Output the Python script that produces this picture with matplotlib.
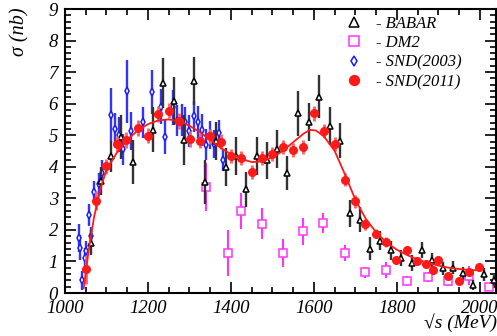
import matplotlib
matplotlib.use("Agg")
import matplotlib.pyplot as plt
from matplotlib.ticker import MultipleLocator

plt.rcParams['font.family'] = ['Liberation Serif', 'DejaVu Serif']
plt.rcParams['mathtext.fontset'] = 'stix'

# --- data ---
# BABAR
babar_e = [1063, 1086, 1111, 1136, 1163, 1212, 1237, 1263, 1287, 1312, 1337, 1363, 1387,
           1413, 1437, 1463, 1487, 1511, 1535, 1561, 1587, 1612, 1638, 1662, 1686, 1712,
           1736, 1760, 1786, 1810, 1837, 1861, 1885, 1910, 1936, 1960, 1984, 2011, 2035]
babar_s = [1.60, 3.55, 4.33, 4.94, 4.14, 5.18, 6.66, 6.08, 4.85, 6.72, 3.52, 4.83, 3.99,
           4.33, 3.28, 4.33, 4.20, 4.57, 3.80, 5.69, 5.41, 6.22, 5.30, 4.83, 2.52, 2.32,
           1.41, 1.65, 1.36, 1.12, 0.96, 1.36, 1.03, 0.78, 0.80, 0.62, 0.26, 0.59, 0.41]
babar_err = [0.40, 0.45, 0.50, 0.70, 0.70, 0.70, 0.80, 0.75, 0.80, 0.75, 0.70, 0.60, 0.60,
             0.60, 0.55, 0.60, 0.60, 0.60, 0.55, 0.70, 0.60, 0.68, 0.60, 0.55, 0.42, 0.40,
             0.35, 0.30, 0.30, 0.25, 0.25, 0.25, 0.25, 0.20, 0.20, 0.20, 0.15, 0.20, 0.20]

# DM2
dm2_e = [1339, 1394, 1424, 1475, 1525, 1573, 1623, 1675, 1724, 1773, 1825, 1875, 1924, 1973, 2023]
dm2_s = [3.36, 1.27, 2.59, 2.20, 1.26, 1.95, 2.23, 1.27, 0.65, 0.73, 0.38, 0.51, 0.38, 0.54, 0.18]
dm2_err = [0.76, 0.74, 0.57, 0.50, 0.45, 0.42, 0.32, 0.26, 0.18, 0.25, 0.15, 0.15, 0.15, 0.30, 0.10]

# SND(2003)
snd03_e = [1033, 1035, 1040, 1049, 1051, 1058, 1062, 1070, 1081, 1090, 1110, 1120, 1130,
           1140, 1150, 1160, 1189, 1210, 1231, 1241, 1260, 1270, 1283, 1290, 1299, 1310,
           1320, 1330, 1340, 1350, 1360, 1370, 1380]
snd03_s = [1.75, 1.43, 0.41, 1.12, 1.34, 2.46, 1.80, 3.20, 3.46, 3.81, 5.65, 5.20, 5.02,
           4.55, 6.39, 5.14, 5.41, 6.38, 5.90, 4.95, 5.88, 5.46, 5.48, 5.41, 5.13, 5.60,
           5.42, 5.16, 4.70, 5.00, 4.73, 5.07, 4.21]
snd03_err = [0.45, 0.40, 0.30, 0.30, 0.30, 0.35, 0.30, 0.35, 0.35, 0.40, 0.85, 0.50, 0.55,
             0.50, 1.00, 0.60, 0.50, 0.70, 0.55, 0.55, 0.55, 0.50, 0.50, 0.50, 0.50, 0.50,
             0.50, 0.50, 0.50, 0.45, 0.45, 0.40, 0.35]

# SND(2011)
snd11_e = [1050, 1075, 1100, 1126, 1148, 1176, 1199, 1224, 1250, 1274, 1301, 1325, 1349,
           1375, 1400, 1424, 1450, 1474, 1500, 1525, 1549, 1574, 1599, 1624, 1650, 1675,
           1700, 1724, 1750, 1774, 1798, 1825, 1848, 1870, 1888, 1898, 1923, 1949, 1973, 1998]
snd11_s = [0.75, 2.93, 4.01, 4.73, 4.85, 5.23, 4.99, 5.67, 5.78, 5.45, 4.88, 4.83, 4.96,
           4.80, 4.34, 4.27, 3.83, 4.27, 4.41, 4.64, 4.54, 4.64, 5.69, 5.12, 4.73, 3.59,
           2.90, 2.18, 1.88, 1.62, 1.04, 1.36, 1.02, 0.93, 0.73, 1.06, 0.53, 0.39, 0.65, 0.82]
snd11_err = [0.45, 0.30, 0.25, 0.25, 0.25, 0.25, 0.25, 0.25, 0.25, 0.25, 0.25, 0.25, 0.25,
             0.25, 0.22, 0.22, 0.22, 0.22, 0.22, 0.22, 0.22, 0.22, 0.25, 0.22, 0.22, 0.20,
             0.20, 0.18, 0.15, 0.15, 0.13, 0.13, 0.12, 0.12, 0.12, 0.12, 0.12, 0.12, 0.12, 0.12]

# fit curve
fit_e = [1045, 1050, 1055, 1060, 1070, 1080, 1090, 1100, 1125, 1150, 1175, 1200, 1225,
         1250, 1275, 1300, 1325, 1350, 1375, 1400, 1425, 1450, 1475, 1500, 1525, 1550,
         1575, 1590, 1605, 1625, 1650, 1675, 1700, 1725, 1750, 1775, 1800, 1825, 1850,
         1875, 1900, 1925, 1950, 1975, 2000]
fit_s = [0.15, 0.65, 1.15, 1.60, 2.40, 3.00, 3.50, 3.90, 4.45, 4.85, 5.15, 5.35, 5.47,
         5.50, 5.45, 5.30, 5.10, 4.85, 4.60, 4.40, 4.25, 4.15, 4.17, 4.30, 4.50, 4.78,
         5.05, 5.17, 5.15, 4.95, 4.50, 3.75, 2.95, 2.35, 1.92, 1.60, 1.37, 1.20, 1.06,
         0.95, 0.87, 0.80, 0.76, 0.73, 0.72]

fig = plt.figure(figsize=(4.97, 3.36), dpi=100)
ax = fig.add_axes([65/497, 43/336, 431.5/497, 284/336])

tfont = dict(family=['Liberation Serif', 'DejaVu Serif'], style='italic')

# DM2
ax.errorbar(dm2_e, dm2_s, yerr=dm2_err, fmt='none', ecolor='#ff33ff', elinewidth=1.5, capsize=0, zorder=2)
ax.plot(dm2_e, dm2_s, 's', ms=5.5, mfc='white', mec='#ff33ff', mew=1.1, ls='none', zorder=3, label='- DM2')

# SND(2003)
ax.errorbar(snd03_e, snd03_s, yerr=snd03_err, fmt='none', ecolor='#3333ff', elinewidth=1.7, capsize=0, zorder=2)
ax.plot(snd03_e, snd03_s, 'd', ms=4.2, mfc='white', mec='#1a1aff', mew=1.1, ls='none', zorder=3, label='- SND(2003)')

# BABAR
ax.errorbar(babar_e, babar_s, yerr=babar_err, fmt='none', ecolor='#333333', elinewidth=1.7, capsize=0, zorder=4)
ax.plot(babar_e, babar_s, '^', ms=5, mfc='white', mec='black', mew=1.1, ls='none', zorder=5, label='- BABAR')

# SND(2011)
ax.errorbar(snd11_e, snd11_s, yerr=snd11_err, fmt='none', ecolor='#ff6060', elinewidth=2.0, capsize=0, zorder=6)
ax.plot(snd11_e, snd11_s, 'o', ms=5.5, mfc='#ff1a1a', mec='#ff1a1a', ls='none', zorder=7, label='- SND(2011)')

ax.plot(fit_e, fit_s, '-', color='#ff1a1a', lw=1.3, zorder=8)

ax.set_xlim(1000, 2040)
ax.set_ylim(0, 9)
ax.xaxis.set_major_locator(MultipleLocator(200))
ax.xaxis.set_minor_locator(MultipleLocator(50))
ax.yaxis.set_major_locator(MultipleLocator(1))
ax.yaxis.set_minor_locator(MultipleLocator(0.2))
ax.tick_params(which='both', direction='in', top=True, right=True, width=1.2)
ax.tick_params(which='major', length=8, labelsize=13.5, pad=5)
ax.tick_params(which='minor', length=4)
for lab in ax.get_xticklabels() + ax.get_yticklabels():
    lab.set_fontstyle('italic')
for sp in ax.spines.values():
    sp.set_linewidth(1.5)

handles, labels = ax.get_legend_handles_labels()
order = [labels.index(l) for l in ['- BABAR', '- DM2', '- SND(2003)', '- SND(2011)']]
leg = ax.legend([handles[i] for i in order], [labels[i] for i in order],
                loc='upper left', bbox_to_anchor=(346/497, 320/336), bbox_transform=fig.transFigure,
                frameon=False, borderpad=0, borderaxespad=0, handlelength=0.95,
                handletextpad=0.85, labelspacing=0.2, markerscale=1.3,
                prop=dict(family='Liberation Serif', style='italic', size=12))

fig.text(20/497, 329/336, 'σ (nb)', rotation=90, ha='center', va='top', fontsize=14.5, **tfont)
fig.text(424/497, 13/336, '√s (MeV)', ha='left', va='center', fontsize=14, **tfont)

fig.savefig('out.png', dpi=100)
